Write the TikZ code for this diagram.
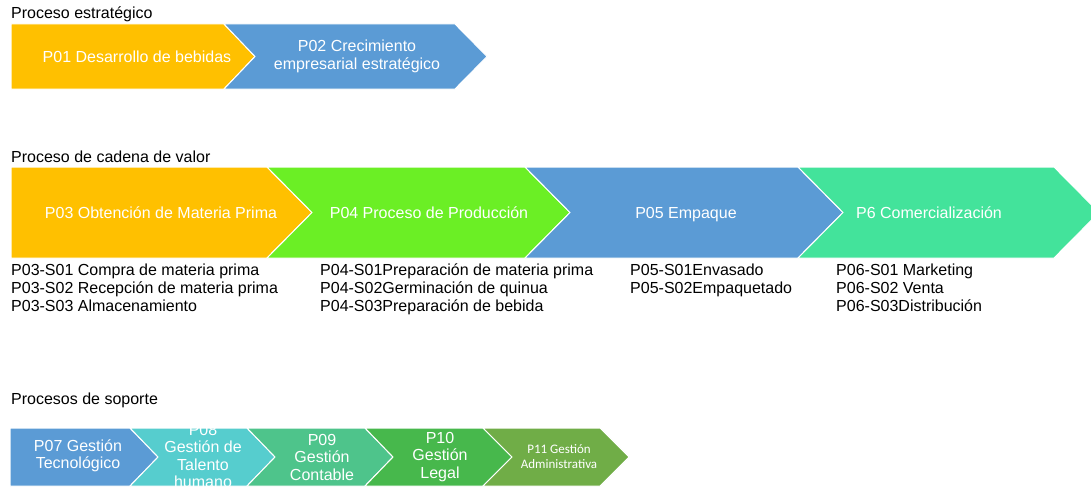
\documentclass[tikz,border=0pt]{standalone}
\usepackage{fontspec}
\setmainfont{Liberation Sans}
\newfontfamily\carlito{Carlito}
\definecolor{cYel}{HTML}{FFC000}
\definecolor{cBlue}{HTML}{5B9BD5}
\definecolor{cLime}{HTML}{6BEF25}
\definecolor{cTeal}{HTML}{43E39B}
\definecolor{cCyan}{HTML}{56CDCE}
\definecolor{cMint}{HTML}{4EC48B}
\definecolor{cGrn}{HTML}{47B84C}
\definecolor{cOlive}{HTML}{70AD47}
\begin{document}
\begin{tikzpicture}[x=1pt,y=-1pt,
  chev/.style={draw=white, line width=1pt, line join=miter},
  lbl/.style={text=white, font=\fontsize{16}{17.5}\selectfont, align=center, inner sep=0pt},
  sublist/.style={anchor=base west, font=\fontsize{16}{18}\selectfont, align=left, inner sep=0pt},
  ttl/.style={anchor=base west, font=\fontsize{16}{18}\selectfont, inner sep=0pt}]
\useasboundingbox (0,0) rectangle (1091,487);
\clip (0,0) rectangle (1091,487);
\fill[white] (0,0) rectangle (1091,487);

% ---------- Proceso estrategico ----------
\node[ttl] (t1) at (11,19) {Proceso estratégico};
\filldraw[chev, fill=cYel] (11,24) -- (224,24) -- (255,56.5) -- (224,89) -- (11,89) -- cycle;
\filldraw[chev, fill=cBlue] (224,24) -- (455,24) -- (487,56.5) -- (455,89) -- (224,89) -- (255,56.5) -- cycle;
\node[lbl] (p01) at (137,56.5) {P01 Desarrollo de bebidas};
\node[lbl] (p02) at (357,56.5) {P02 Crecimiento\\empresarial estratégico};

% ---------- Proceso de cadena de valor ----------
\node[ttl] (t2) at (11,162) {Proceso de cadena de valor};
\filldraw[chev, fill=cYel] (11,167) -- (267,167) -- (312,212.5) -- (267,258) -- (11,258) -- cycle;
\filldraw[chev, fill=cLime] (267,167) -- (525,167) -- (570,212.5) -- (525,258) -- (267,258) -- (312,212.5) -- cycle;
\filldraw[chev, fill=cBlue] (525,167) -- (798,167) -- (843,212.5) -- (798,258) -- (525,258) -- (570,212.5) -- cycle;
\filldraw[chev, fill=cTeal] (798,167) -- (1054,167) -- (1099,212.5) -- (1054,258) -- (798,258) -- (843,212.5) -- cycle;
\node[lbl, anchor=base] (p03) at (161,218.5) {P03 Obtención de Materia Prima};
\node[lbl, anchor=base] (p04) at (429,218.5) {P04 Proceso de Producción};
\node[lbl, anchor=base] (p05) at (686,218.5) {P05 Empaque};
\node[lbl, anchor=base] (p06) at (929,218.5) {P6 Comercialización};

% last-line baseline: 275 + 18*(lines-1)
\node[sublist] (s03) at (11,311) {P03-S01 Compra de materia prima\\P03-S02 Recepción de materia prima\\P03-S03 Almacenamiento};
\node[sublist] (s04) at (320,311) {P04-S01Preparación de materia prima\\P04-S02Germinación de quinua\\P04-S03Preparación de bebida};
\node[sublist] (s05) at (630,293) {P05-S01Envasado\\P05-S02Empaquetado};
\node[sublist] (s06) at (836,311) {P06-S01 Marketing\\P06-S02 Venta\\P06-S03Distribución};

% ---------- Procesos de soporte ----------
\node[ttl] (t3) at (11,404) {Procesos de soporte};
\filldraw[chev, fill=cBlue] (10,428) -- (130,428) -- (158,457) -- (130,486) -- (10,486) -- cycle;
\filldraw[chev, fill=cCyan] (130,428) -- (247,428) -- (275,457) -- (247,486) -- (130,486) -- (158,457) -- cycle;
\filldraw[chev, fill=cMint] (247,428) -- (365,428) -- (393,457) -- (365,486) -- (247,486) -- (275,457) -- cycle;
\filldraw[chev, fill=cGrn] (365,428) -- (483,428) -- (512,457) -- (483,486) -- (365,486) -- (393,457) -- cycle;
\filldraw[chev, fill=cOlive] (483,428) -- (600,428) -- (629,457) -- (600,486) -- (483,486) -- (512,457) -- cycle;
\node[lbl] (p07) at (78,456) {P07 Gestión\\Tecnológico};
\node[lbl] (p08) at (203,456) {P08\\Gestión de\\Talento\\humano};
\node[lbl] (p09) at (322,457) {P09\\Gestión\\Contable};
\node[lbl] (p10) at (440,457) {P10\\Gestión\\Legal};
\node[lbl, font=\carlito\fontsize{13}{15.5}\selectfont] (p11) at (559,456.5) {P11 Gestión\\Administrativa};
\end{tikzpicture}
\end{document}
